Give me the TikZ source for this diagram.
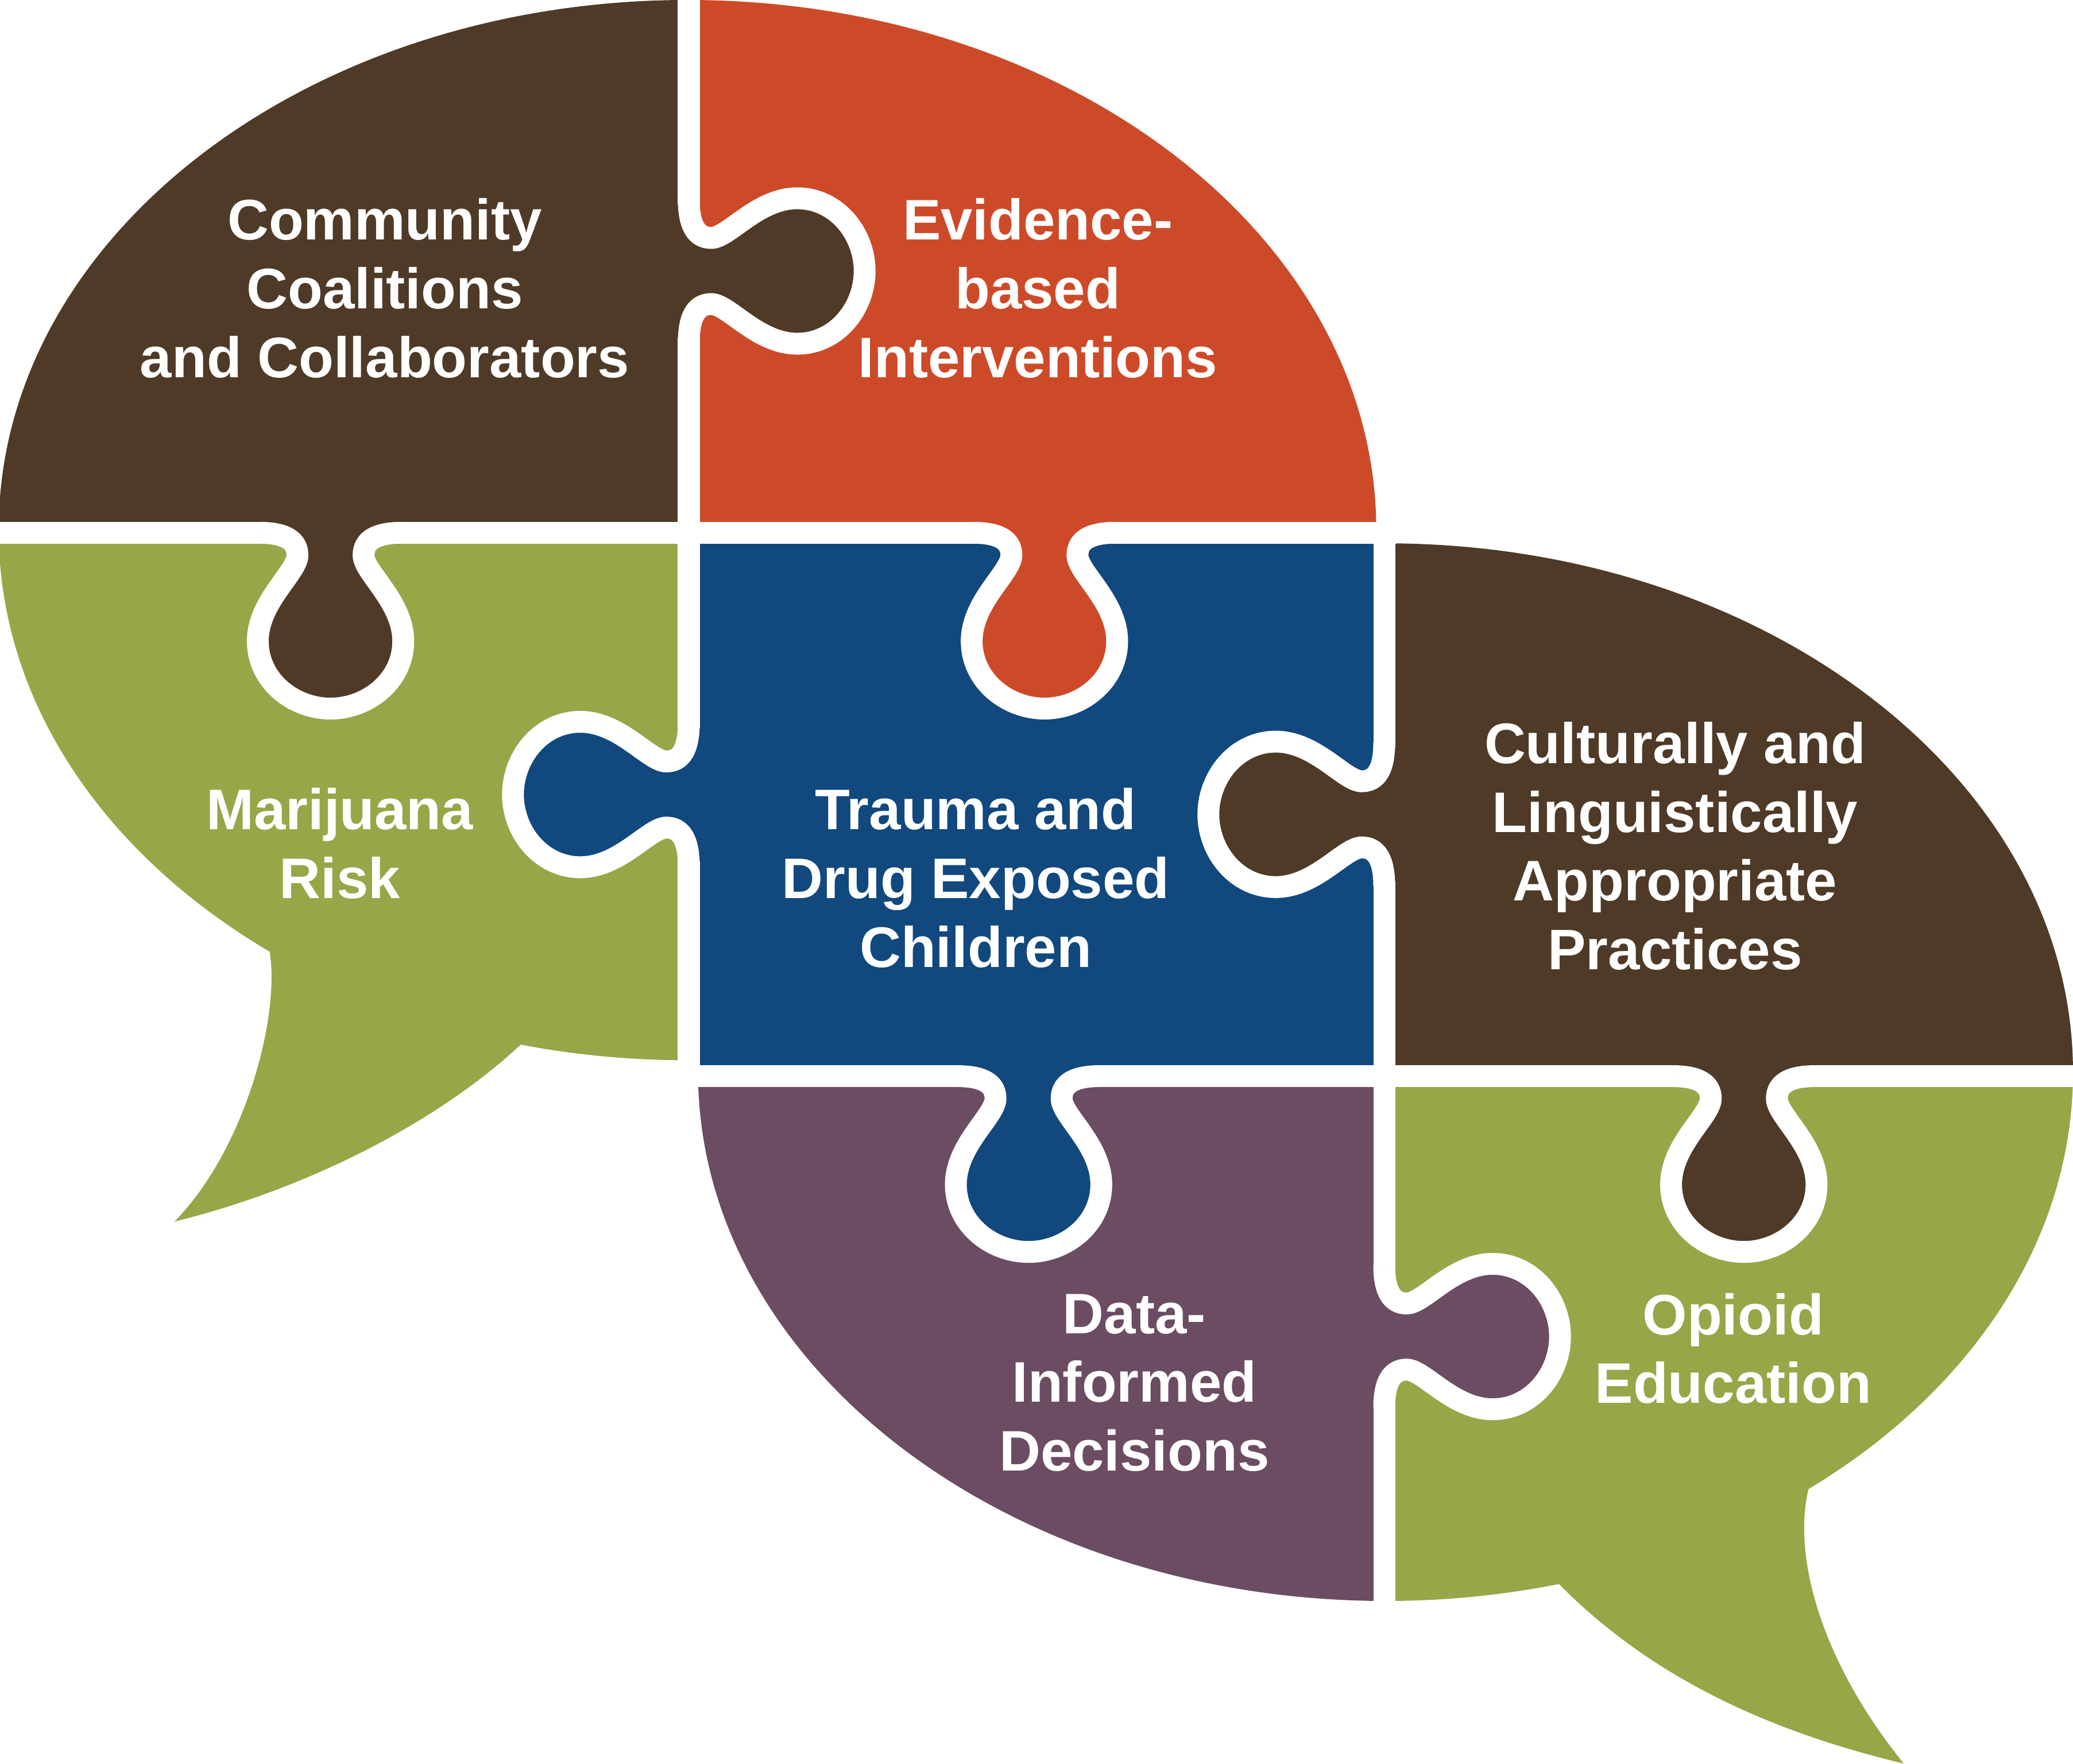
\documentclass[tikz,border=0pt]{standalone}
\usepackage{fontspec}
\setmainfont{Liberation Sans}
\definecolor{cbrown}{HTML}{4E3A27}
\definecolor{cred}{HTML}{CD4A29}
\definecolor{cgreen}{HTML}{96A748}
\definecolor{cblue}{HTML}{11487E}
\definecolor{cpurple}{HTML}{6B4C62}
\tikzset{
  lbl/.style={text=white, font=\fontsize{12.3pt}{14.8pt}\selectfont\bfseries, align=center, inner sep=0pt},
  sepline/.style={draw=white, line width=0.165cm},
}
% knob on a horizontal separator, bulging towards +v (down)
\def\knobD{(-54,0) .. controls (-34,0) and (-25,6) .. (-25,17) .. controls (-25,30) and (-55,52) .. (-55,82) .. controls (-55,112) and (-28,133) .. (0,133) .. controls (28,133) and (55,112) .. (55,82) .. controls (55,52) and (25,30) .. (25,17) .. controls (25,6) and (34,0) .. (54,0)}
% knob on a vertical separator, bulging towards +x (right)
\def\knobR{(0,-54) .. controls (0,-34) and (6,-25) .. (17,-25) .. controls (30,-25) and (52,-55) .. (82,-55) .. controls (112,-55) and (133,-28) .. (133,0) .. controls (133,28) and (112,55) .. (82,55) .. controls (52,55) and (30,25) .. (17,25) .. controls (6,25) and (0,34) .. (0,54)}
\begin{document}
\begin{tikzpicture}[x=0.01cm,y=-0.01cm]
\useasboundingbox (0,0) rectangle (1568,1334);

% left bubble
\begin{scope}
  \clip (520,401) ellipse [x radius=521, y radius=401];
  \fill[cbrown] (-10,-10) rectangle (521,403);
  \fill[cred] (521,-10) rectangle (1100,403);
  \fill[cgreen] (-10,403) rectangle (521,1000);
\end{scope}
\fill[cgreen] (204,720) .. controls (212,770) and (185,870) .. (132,924)
  .. controls (230,900) and (330,850) .. (394,790) -- (300,650) -- cycle;

% right bubble
\begin{scope}
  \clip (1048,811) ellipse [x radius=520, y radius=400];
  \fill[cbrown] (1047,380) rectangle (1600,814);
  \fill[cpurple] (500,814) rectangle (1047,1250);
  \fill[cgreen] (1047,814) rectangle (1600,1250);
\end{scope}
\fill[cgreen] (1368,1126) .. controls (1355,1180) and (1380,1260) .. (1440,1334)
  .. controls (1340,1310) and (1250,1270) .. (1179,1198) -- (1280,1100) -- cycle;

% centre piece
\fill[cblue] (521,403) rectangle (1047,814);

% straight separators
\draw[sepline] (-10,403) -- (1056,403);
\draw[sepline] (515,814) -- (1580,814);
\draw[sepline] (521,-10) -- (521,822);
\draw[sepline] (1047,395) -- (1047,1220);

% knobs
\begin{scope}[shift={(521,205)}]
  \fill[cbrown] \knobR -- (-9,50) -- (-9,-50) -- cycle;
  \draw[sepline] \knobR;
\end{scope}
\begin{scope}[shift={(250,403)}]
  \fill[cbrown] \knobD -- (50,-9) -- (-50,-9) -- cycle;
  \draw[sepline] \knobD;
\end{scope}
\begin{scope}[shift={(790,403)}]
  \fill[cred] \knobD -- (50,-9) -- (-50,-9) -- cycle;
  \draw[sepline] \knobD;
\end{scope}
\begin{scope}[shift={(521,601)}, xscale=-1]
  \fill[cblue] \knobR -- (-9,50) -- (-9,-50) -- cycle;
  \draw[sepline] \knobR;
\end{scope}
\begin{scope}[shift={(1047,616)}, xscale=-1]
  \fill[cbrown] \knobR -- (-9,50) -- (-9,-50) -- cycle;
  \draw[sepline] \knobR;
\end{scope}
\begin{scope}[shift={(778,814)}]
  \fill[cblue] \knobD -- (50,-9) -- (-50,-9) -- cycle;
  \draw[sepline] \knobD;
\end{scope}
\begin{scope}[shift={(1319,814)}]
  \fill[cbrown] \knobD -- (50,-9) -- (-50,-9) -- cycle;
  \draw[sepline] \knobD;
\end{scope}
\begin{scope}[shift={(1047,1011)}]
  \fill[cpurple] \knobR -- (-9,50) -- (-9,-50) -- cycle;
  \draw[sepline] \knobR;
\end{scope}

% labels
\node[lbl] (t1) at (291,218) {Community\\Coalitions\\and Collaborators};
\node[lbl] (t2) at (785,218) {Evidence-\\based\\Interventions};
\node[lbl] (t3) at (257,638) {Marijuana\\Risk};
\node[lbl] (t4) at (738,664) {Trauma and\\Drug Exposed\\Children};
\node[lbl] (t5) at (1267,640) {Culturally and\\Linguistically\\Appropriate\\Practices};
\node[lbl] (t6) at (858,1046) {Data-\\Informed\\Decisions};
\node[lbl] (t7) at (1311,1020) {Opioid\\Education};
\end{tikzpicture}
\end{document}
